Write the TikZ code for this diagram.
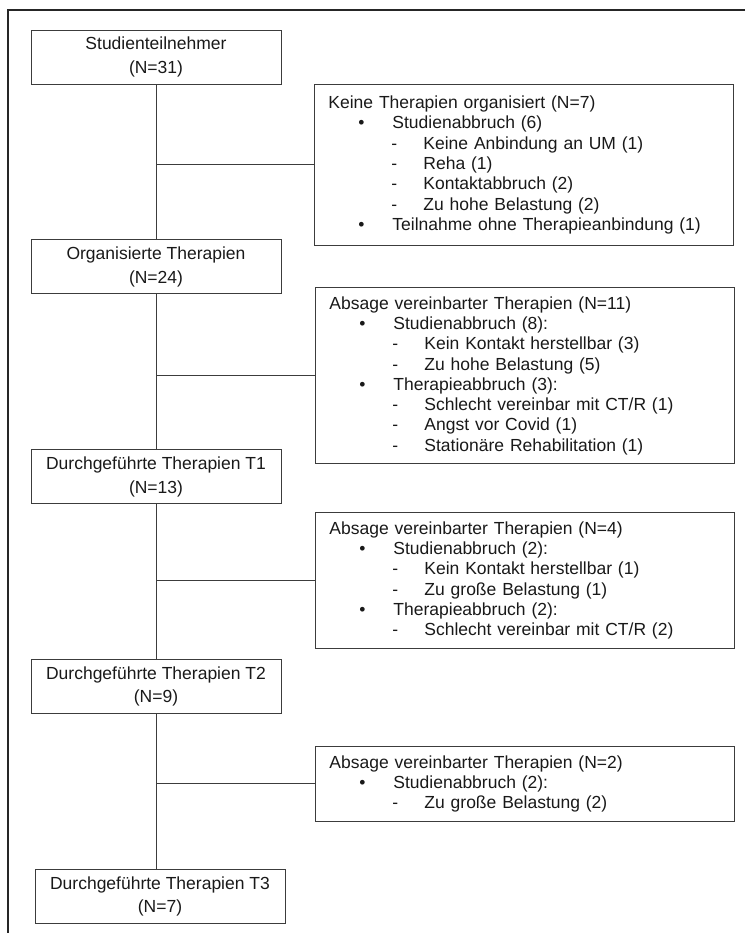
\documentclass[tikz,border=0pt]{standalone}
\usepackage{fontspec}
\setmainfont{Liberation Sans}
\usepackage{xcolor}
\usepackage{tikz}
\usetikzlibrary{positioning}
\definecolor{linegray}{RGB}{60,60,60}
\definecolor{textgray}{RGB}{25,25,25}
\newcommand{\bul}[1]{\\\makebox[64pt][l]{\hspace*{30pt}\textbullet}#1}
\newcommand{\dsh}[1]{\\\makebox[95pt][l]{\hspace*{63pt}-}#1}

\begin{document}
\begin{tikzpicture}[x=1pt, y=-1pt,
  node distance=155pt,
  stage/.style={rectangle, draw=linegray, line width=0.9pt, minimum width=250pt,
                minimum height=54pt, align=center, text=textgray,
                font=\fontsize{17.5}{23.5}\selectfont},
  reason/.style={rectangle, draw=linegray, line width=0.9pt, anchor=north west,
                 text width=391pt, inner xsep=14pt, inner ysep=9pt, align=left,
                 text=textgray, font=\fontsize{17.5}{20.3}\selectfont},
  link/.style={draw=linegray, line width=0.9pt}]

  \useasboundingbox (0,0) rectangle (745,933);
  \draw[line width=1.3pt, black!85] (745,10) -- (8,10) -- (8,933);

  \node[stage] (s0) at (156,57) {Studienteilnehmer\\(N=31)};
  \node[stage, below=of s0] (s1) {Organisierte Therapien\\(N=24)};
  \node[stage, below=of s1] (s2) {Durchgeführte Therapien T1\\(N=13)};
  \node[stage, below=of s2] (s3) {Durchgeführte Therapien T2\\(N=9)};
  \node[stage, below=of s3, xshift=4pt] (s4) {Durchgeführte Therapien T3\\(N=7)};

  \node[reason, minimum height=161pt] (r0) at (314,84) {Keine Therapien organisiert (N=7)%
    \bul{Studienabbruch (6)}\dsh{Keine Anbindung an UM (1)}\dsh{Reha (1)}%
    \dsh{Kontaktabbruch (2)}\dsh{Zu hohe Belastung (2)}%
    \bul{Teilnahme ohne Therapieanbindung (1)}};
  \node[reason] (r1) at (315,287) {Absage vereinbarter Therapien (N=11)%
    \bul{Studienabbruch (8):}\dsh{Kein Kontakt herstellbar (3)}\dsh{Zu hohe Belastung (5)}%
    \bul{Therapieabbruch (3):}\dsh{Schlecht vereinbar mit CT/R (1)}%
    \dsh{Angst vor Covid (1)}\dsh{Stationäre Rehabilitation (1)}};
  \node[reason] (r2) at (315,512) {Absage vereinbarter Therapien (N=4)%
    \bul{Studienabbruch (2):}\dsh{Kein Kontakt herstellbar (1)}\dsh{Zu große Belastung (1)}%
    \bul{Therapieabbruch (2):}\dsh{Schlecht vereinbar mit CT/R (2)}};
  \node[reason] (r3) at (315,746) {Absage vereinbarter Therapien (N=2)%
    \bul{Studienabbruch (2):}\dsh{Zu große Belastung (2)}};

  % main line
  \draw[link] (s0) -- (s1);
  \draw[link] (s1) -- (s2);
  \draw[link] (s2) -- (s3);
  \draw[link] (s3.south) -- (s3.south |- s4.north);

  % side branches
  \draw[link] (r0.west) -- (r0.west -| s0.south);
  \draw[link] (r1.west) -- (r1.west -| s1.south);
  \draw[link] (r2.west) -- (r2.west -| s2.south);
  \draw[link] (r3.west) -- (r3.west -| s3.south);
\end{tikzpicture}
\end{document}
